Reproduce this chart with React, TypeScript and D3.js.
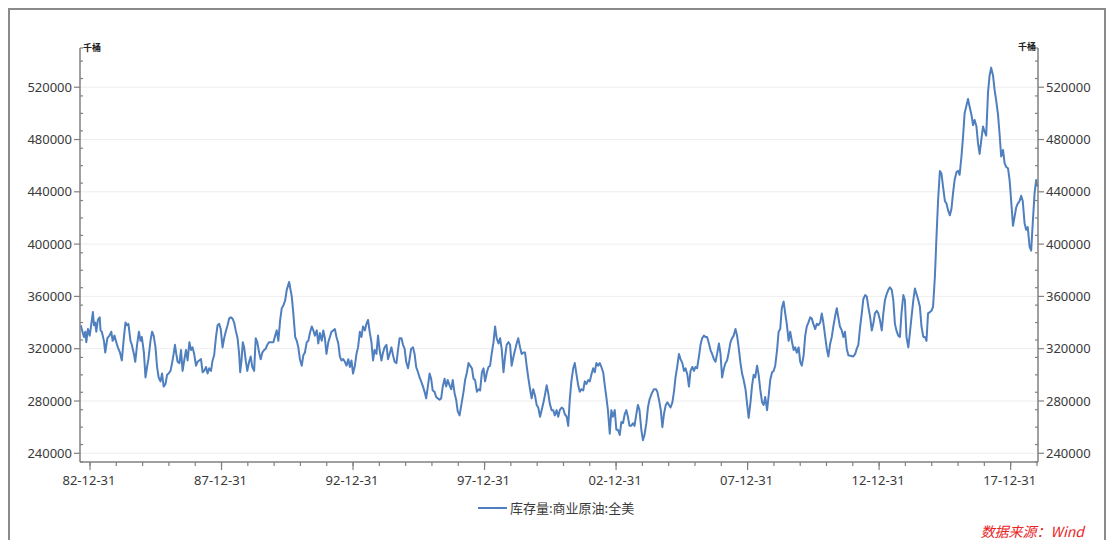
import React from "react";
import * as d3 from "d3";

// ---- data (US commercial crude oil stocks, thousand barrels) ----
const years = [
  1982.65, 1982.70, 1982.77, 1982.82, 1982.86, 1982.92, 1982.99, 1983.05, 1983.11, 1983.15,
  1983.20, 1983.24, 1983.30, 1983.37, 1983.40, 1983.45, 1983.53, 1983.58, 1983.66, 1983.74,
  1983.81, 1983.86, 1983.93, 1984.00, 1984.06, 1984.14, 1984.21, 1984.29, 1984.35, 1984.41,
  1984.46, 1984.54, 1984.59, 1984.67, 1984.72, 1984.79, 1984.86, 1984.92, 1984.97, 1985.05,
  1985.11, 1985.17, 1985.22, 1985.30, 1985.36, 1985.42, 1985.49, 1985.55, 1985.61, 1985.68,
  1985.74, 1985.80, 1985.87, 1985.93, 1985.99, 1986.06, 1986.12, 1986.18, 1986.23, 1986.28,
  1986.33, 1986.40, 1986.46, 1986.52, 1986.59, 1986.65, 1986.71, 1986.78, 1986.84, 1986.90,
  1986.96, 1987.03, 1987.09, 1987.15, 1987.22, 1987.28, 1987.34, 1987.41, 1987.47, 1987.53,
  1987.60, 1987.66, 1987.72, 1987.79, 1987.85, 1987.91, 1987.97, 1988.04, 1988.10, 1988.16,
  1988.23, 1988.29, 1988.35, 1988.42, 1988.48, 1988.54, 1988.61, 1988.67, 1988.71, 1988.76,
  1988.81, 1988.86, 1988.92, 1988.98, 1989.05, 1989.11, 1989.17, 1989.24, 1989.30, 1989.36,
  1989.43, 1989.49, 1989.55, 1989.62, 1989.68, 1989.74, 1989.81,
  1989.97, 1990.04, 1990.10, 1990.16, 1990.23, 1990.29, 1990.35, 1990.42, 1990.48, 1990.57,
  1990.67, 1990.73, 1990.80, 1990.86, 1990.92, 1990.98, 1991.05, 1991.11, 1991.17, 1991.24,
  1991.30, 1991.36, 1991.43, 1991.49, 1991.55, 1991.62, 1991.68, 1991.74, 1991.81, 1991.87,
  1991.93, 1991.99, 1992.06, 1992.12, 1992.18, 1992.25, 1992.31, 1992.37, 1992.44, 1992.50,
  1992.56, 1992.63, 1992.69, 1992.75, 1992.82, 1992.88, 1992.94, 1993.00, 1993.07, 1993.13,
  1993.19, 1993.26, 1993.32, 1993.38, 1993.45, 1993.51, 1993.57, 1993.64, 1993.70, 1993.76,
  1993.82, 1993.89, 1993.95, 1994.01, 1994.08, 1994.14, 1994.20, 1994.27, 1994.33, 1994.39,
  1994.46, 1994.52, 1994.58, 1994.65, 1994.71, 1994.77, 1994.84, 1994.90, 1994.96, 1995.02,
  1995.09, 1995.15, 1995.21, 1995.28, 1995.34, 1995.40, 1995.47, 1995.53, 1995.59, 1995.66,
  1995.72, 1995.78, 1995.85, 1995.91, 1995.97, 1996.03, 1996.10, 1996.16, 1996.22, 1996.29,
  1996.35, 1996.41, 1996.48, 1996.54, 1996.60, 1996.67, 1996.73, 1996.79, 1996.86, 1996.92,
  1996.98, 1997.05,
  1997.20, 1997.26, 1997.33, 1997.39, 1997.45, 1997.52, 1997.58, 1997.64, 1997.71, 1997.77,
  1997.83, 1997.90, 1997.96, 1998.02, 1998.09, 1998.15, 1998.21, 1998.27, 1998.34, 1998.40,
  1998.46, 1998.53, 1998.59, 1998.65, 1998.72, 1998.78, 1998.84, 1998.91, 1998.97, 1999.03,
  1999.10, 1999.16, 1999.22, 1999.28, 1999.35, 1999.41, 1999.47, 1999.54, 1999.60, 1999.66,
  1999.73, 1999.79, 1999.85, 1999.92, 1999.98, 2000.04, 2000.11, 2000.17, 2000.23, 2000.29,
  2000.36, 2000.42, 2000.48, 2000.55, 2000.61, 2000.67, 2000.74, 2000.80, 2000.86, 2000.93,
  2000.99, 2001.05, 2001.12, 2001.18, 2001.24, 2001.30, 2001.37, 2001.43, 2001.49, 2001.56,
  2001.62, 2001.68, 2001.75, 2001.81, 2001.87, 2001.94, 2002.00, 2002.06, 2002.13, 2002.19,
  2002.25, 2002.32, 2002.38, 2002.44, 2002.51, 2002.57, 2002.63, 2002.69, 2002.76, 2002.82,
  2002.88, 2002.95, 2003.01, 2003.07, 2003.14, 2003.20, 2003.26, 2003.33, 2003.39, 2003.45,
  2003.51, 2003.58, 2003.64, 2003.70, 2003.77, 2003.83, 2003.89, 2003.96, 2004.02, 2004.08,
  2004.15, 2004.21, 2004.27,
  2004.36, 2004.44, 2004.52, 2004.57, 2004.63, 2004.70, 2004.76, 2004.82, 2004.89, 2004.95,
  2005.01, 2005.07, 2005.14, 2005.20, 2005.26, 2005.33, 2005.39, 2005.45, 2005.52, 2005.58,
  2005.64, 2005.71, 2005.77, 2005.83, 2005.90, 2005.96, 2006.02, 2006.08, 2006.15, 2006.21,
  2006.27, 2006.34, 2006.40, 2006.46, 2006.53, 2006.59, 2006.65, 2006.72, 2006.78, 2006.84,
  2006.91, 2006.97, 2007.03, 2007.10, 2007.16, 2007.22, 2007.28, 2007.35, 2007.41, 2007.47,
  2007.54, 2007.60, 2007.66, 2007.73, 2007.79, 2007.85, 2007.92, 2007.98, 2008.04, 2008.11,
  2008.17, 2008.23, 2008.29, 2008.36, 2008.42, 2008.48, 2008.55, 2008.61, 2008.67, 2008.74,
  2008.80, 2008.86, 2008.93, 2008.99, 2009.05, 2009.12, 2009.18, 2009.24, 2009.30, 2009.37,
  2009.43, 2009.49, 2009.56, 2009.62, 2009.68, 2009.75, 2009.81, 2009.87, 2009.94, 2010.00,
  2010.06, 2010.13, 2010.19, 2010.25, 2010.31, 2010.38, 2010.44, 2010.50, 2010.57, 2010.63,
  2010.69, 2010.76, 2010.82, 2010.88, 2010.95, 2011.01, 2011.07, 2011.14, 2011.20, 2011.26,
  2011.32, 2011.39, 2011.45, 2011.51, 2011.58, 2011.64, 2011.70, 2011.77, 2011.83,
  2012.02, 2012.09, 2012.15, 2012.21, 2012.28, 2012.34, 2012.40, 2012.47, 2012.53, 2012.59,
  2012.66, 2012.72, 2012.78, 2012.84, 2012.91, 2012.97, 2013.03, 2013.10, 2013.16, 2013.22,
  2013.29, 2013.35, 2013.41, 2013.48, 2013.54, 2013.60, 2013.67, 2013.73, 2013.79, 2013.85,
  2013.92, 2013.98, 2014.04, 2014.11, 2014.17, 2014.23, 2014.30, 2014.36, 2014.42, 2014.49,
  2014.55, 2014.61, 2014.68, 2014.74, 2014.80, 2014.86, 2014.93, 2014.99, 2015.05, 2015.12,
  2015.18, 2015.24, 2015.31, 2015.37, 2015.43, 2015.50, 2015.56, 2015.62, 2015.69, 2015.75,
  2015.81, 2015.87, 2015.94, 2016.00, 2016.06, 2016.13, 2016.19, 2016.25, 2016.32, 2016.38,
  2016.44, 2016.51, 2016.57, 2016.63, 2016.70, 2016.76, 2016.82, 2016.88, 2016.95, 2017.01,
  2017.07, 2017.14, 2017.20, 2017.26, 2017.33, 2017.39, 2017.45, 2017.52, 2017.58, 2017.64,
  2017.71, 2017.77, 2017.83, 2017.90, 2017.96, 2018.02, 2018.09, 2018.15, 2018.21, 2018.27,
  2018.34, 2018.40, 2018.46, 2018.53, 2018.59, 2018.65, 2018.72, 2018.78, 2018.84, 2018.91,
  2018.97, 2019.03,
];

const stocks = [
  338000, 334000, 329000, 333000, 325000, 335000, 330000, 339000, 348000, 338000,
  340000, 333000, 342000, 344000, 334000, 333000, 326000, 317000, 328000, 330000,
  333000, 326000, 330000, 325000, 321000, 317000, 311000, 329000, 340000, 338000,
  339000, 326000, 323000, 316000, 310000, 323000, 333000, 326000, 329000, 317000,
  298000, 306000, 312000, 326000, 333000, 330000, 321000, 306000, 298000, 295000,
  301000, 291000, 293000, 300000, 301000, 303000, 309000, 316000, 323000, 316000,
  310000, 309000, 319000, 303000, 312000, 319000, 311000, 325000, 319000, 321000,
  316000, 307000, 310000, 311000, 312000, 302000, 303000, 306000, 301000, 305000,
  303000, 311000, 315000, 329000, 338000, 339000, 335000, 321000, 328000, 333000,
  338000, 343000, 344000, 343000, 340000, 334000, 328000, 316000, 302000, 311000,
  325000, 321000, 311000, 303000, 310000, 314000, 306000, 303000, 328000, 325000,
  317000, 312000, 317000, 319000, 320000, 323000, 325000,
  325000, 330000, 334000, 326000, 342000, 351000, 353000, 357000, 365000, 371000,
  360000, 347000, 329000, 326000, 321000, 312000, 307000, 315000, 317000, 325000,
  326000, 332000, 337000, 334000, 330000, 334000, 324000, 332000, 326000, 334000,
  328000, 316000, 325000, 329000, 333000, 334000, 335000, 329000, 324000, 314000,
  311000, 312000, 310000, 307000, 312000, 306000, 311000, 301000, 307000, 316000,
  321000, 333000, 329000, 337000, 334000, 339000, 342000, 332000, 325000, 311000,
  319000, 316000, 330000, 319000, 311000, 317000, 321000, 323000, 312000, 316000,
  321000, 315000, 310000, 309000, 319000, 328000, 328000, 323000, 320000, 310000,
  305000, 312000, 320000, 321000, 316000, 306000, 302000, 298000, 295000, 291000,
  287000, 282000, 292000, 301000, 297000, 288000, 287000, 283000, 282000, 281000,
  282000, 291000, 297000, 291000, 296000, 292000, 289000, 296000, 286000, 281000,
  272000, 269000,
  287000, 296000, 302000, 309000, 307000, 305000, 297000, 296000, 287000, 289000,
  288000, 302000, 305000, 295000, 302000, 306000, 307000, 316000, 325000, 337000,
  328000, 324000, 328000, 320000, 302000, 314000, 323000, 325000, 323000, 307000,
  314000, 319000, 324000, 328000, 321000, 316000, 317000, 317000, 307000, 298000,
  289000, 282000, 289000, 284000, 277000, 275000, 268000, 273000, 278000, 284000,
  292000, 286000, 278000, 273000, 273000, 269000, 273000, 268000, 273000, 275000,
  274000, 270000, 268000, 261000, 281000, 295000, 305000, 309000, 301000, 292000,
  287000, 289000, 288000, 295000, 293000, 296000, 295000, 300000, 305000, 302000,
  309000, 307000, 309000, 306000, 302000, 292000, 283000, 273000, 255000, 273000,
  268000, 273000, 258000, 258000, 254000, 264000, 263000, 270000, 273000, 268000,
  261000, 261000, 263000, 261000, 270000, 277000, 273000, 258000, 250000, 254000,
  263000, 275000, 281000,
  286000, 289000, 289000, 287000, 281000, 273000, 260000, 270000, 277000, 279000,
  277000, 275000, 279000, 287000, 298000, 307000, 316000, 312000, 309000, 303000,
  305000, 300000, 291000, 303000, 306000, 303000, 306000, 305000, 314000, 323000,
  328000, 330000, 329000, 329000, 324000, 319000, 316000, 312000, 310000, 316000,
  324000, 316000, 298000, 305000, 309000, 311000, 317000, 325000, 328000, 330000,
  335000, 330000, 321000, 309000, 301000, 296000, 289000, 278000, 267000, 279000,
  292000, 300000, 298000, 307000, 300000, 289000, 279000, 277000, 283000, 273000,
  284000, 296000, 302000, 303000, 307000, 319000, 333000, 335000, 351000, 356000,
  347000, 339000, 326000, 333000, 326000, 319000, 321000, 317000, 321000, 310000,
  307000, 315000, 330000, 337000, 340000, 344000, 343000, 339000, 335000, 339000,
  338000, 340000, 347000, 340000, 329000, 320000, 314000, 324000, 329000, 337000,
  344000, 351000, 344000, 337000, 334000, 329000, 333000, 320000, 315000,
  314000, 316000, 320000, 323000, 337000, 347000, 358000, 361000, 360000, 352000,
  344000, 334000, 339000, 347000, 349000, 347000, 342000, 334000, 347000, 357000,
  362000, 365000, 367000, 365000, 357000, 339000, 333000, 330000, 329000, 347000,
  361000, 357000, 329000, 321000, 332000, 344000, 357000, 366000, 362000, 357000,
  352000, 337000, 329000, 329000, 326000, 347000, 348000, 349000, 352000, 375000,
  405000, 433000, 456000, 454000, 444000, 433000, 431000, 426000, 422000, 427000,
  439000, 449000, 455000, 456000, 453000, 467000, 482000, 500000, 506000, 511000,
  505000, 499000, 491000, 495000, 490000, 477000, 469000, 479000, 490000, 486000,
  483000, 516000, 529000, 535000, 529000, 518000, 510000, 499000, 484000, 467000,
  472000, 462000, 459000, 458000, 449000, 433000, 414000, 421000, 428000, 431000,
  433000, 437000, 433000, 416000, 411000, 413000, 398000, 395000, 416000, 439000,
  449000, 444000,
];

const seriesName = "库存量:商业原油:全美";
const unitLabel = "千桶";
const sourceText = "数据来源：Wind";
const yTickValues = [240000, 280000, 320000, 360000, 400000, 440000, 480000, 520000];
const xTickYears = [1983, 1988, 1993, 1998, 2003, 2008, 2013, 2018];
const xTickLabels = ["82-12-31", "87-12-31", "92-12-31", "97-12-31", "02-12-31", "07-12-31", "12-12-31", "17-12-31"];

// ---- layout ----
const W = 1108;
const H = 540;
const L = 80;
const R = 1038;
const T = 48;
const B = 462;
const LINE = "#4f7fbf";
const AXIS = "#808080";
const TEXT = "#3a3a3a";
const NUM_FONT = "'Noto Sans', 'DejaVu Sans', sans-serif";
const CJK_FONT = "'Noto Sans CJK SC', 'Noto Sans', sans-serif";

export default function App() {
  const x = d3.scaleLinear().domain([1982.62, 2019.04]).range([L, R]);
  const y = d3.scaleLinear().domain([233333.33, 550000]).range([B, T]);

  const pts: [number, number][] = years.map((yr, i) => [yr, stocks[i]]);
  const path = d3
    .line<[number, number]>()
    .x((d) => x(d[0]))
    .y((d) => y(d[1]))(pts) as string;

  const minorY = d3.range(0, 24).map((k) => 233333.33 + k * 13333.333);
  const minorX = d3.range(1983, 2020);

  return (
    <svg
      width={W}
      height={H}
      style={{ position: "absolute", left: 0, top: 0, background: "#fff" }}
    >
      <rect x={0} y={0} width={W} height={H} fill="#fff" />
      {/* outer frame */}
      <rect x={9} y={9} width={1096} height={600} fill="none" stroke="#8a8a8a" strokeWidth={2} />

      {/* grid */}
      {yTickValues.map((v) => (
        <line key={"g" + v} x1={L} x2={R} y1={y(v)} y2={y(v)} stroke="#ededed" strokeWidth={1} />
      ))}

      {/* series */}
      <path d={path} fill="none" stroke={LINE} strokeWidth={2} strokeLinejoin="round" />

      {/* left axis */}
      <line x1={L} x2={L} y1={T} y2={B} stroke={AXIS} strokeWidth={1.5} />
      {minorY.map((v, i) => (
        <line key={"lm" + i} x1={L} x2={L + 3} y1={y(v)} y2={y(v)} stroke={AXIS} strokeWidth={1.2} />
      ))}
      {yTickValues.map((v) => (
        <g key={"ly" + v}>
          <line x1={L - 6} x2={L} y1={y(v)} y2={y(v)} stroke={AXIS} strokeWidth={1.2} />
          <text x={L - 8} y={y(v)} dy="0.35em" textAnchor="end" fontSize={13} fontFamily={NUM_FONT} fill={TEXT}>
            {v}
          </text>
        </g>
      ))}
      <line x1={L} x2={L + 3} y1={T} y2={T} stroke={AXIS} strokeWidth={1.2} />
      <text x={L + 3} y={T} dy="0.35em" fontSize={9} fontWeight="bold" fontFamily={CJK_FONT} fill="#222">
        {unitLabel}
      </text>

      {/* right axis */}
      <line x1={R} x2={R} y1={T} y2={B} stroke={AXIS} strokeWidth={1.5} />
      {minorY.map((v, i) => (
        <line key={"rm" + i} x1={R - 3} x2={R} y1={y(v)} y2={y(v)} stroke={AXIS} strokeWidth={1.2} />
      ))}
      {yTickValues.map((v) => (
        <g key={"ry" + v}>
          <line x1={R} x2={R + 6} y1={y(v)} y2={y(v)} stroke={AXIS} strokeWidth={1.2} />
          <text x={R + 8} y={y(v)} dy="0.35em" textAnchor="start" fontSize={13} fontFamily={NUM_FONT} fill={TEXT}>
            {v}
          </text>
        </g>
      ))}
      <line x1={R - 3} x2={R} y1={T} y2={T} stroke={AXIS} strokeWidth={1.2} />
      <text x={R - 2} y={T - 1} dy="0.35em" textAnchor="end" fontSize={9} fontWeight="bold" fontFamily={CJK_FONT} fill="#222">
        {unitLabel}
      </text>

      {/* bottom axis */}
      <line x1={L} x2={R} y1={B} y2={B} stroke={AXIS} strokeWidth={1.5} />
      {minorX.map((yr) => (
        <line key={"xm" + yr} x1={x(yr)} x2={x(yr)} y1={B} y2={B + 4} stroke={AXIS} strokeWidth={1.2} />
      ))}
      {xTickYears.map((yr, i) => (
        <g key={"xt" + yr}>
          <line x1={x(yr)} x2={x(yr)} y1={B} y2={B + 8} stroke={AXIS} strokeWidth={1.2} />
          <text x={x(yr) - 1} y={B + 18} dy="0.35em" textAnchor="middle" fontSize={13} fontFamily={NUM_FONT} fill={TEXT}>
            {xTickLabels[i]}
          </text>
        </g>
      ))}

      {/* legend */}
      <line x1={478} x2={507} y1={508} y2={508} stroke={LINE} strokeWidth={2} />
      <text x={510} y={508} dy="0.35em" fontSize={13} fontFamily={CJK_FONT} fill={TEXT}>
        {seriesName}
      </text>

      {/* source */}
      <text x={1084} y={532} dy="0.35em" textAnchor="end" fontSize={14} fontStyle="italic" fontFamily={CJK_FONT} fill="#e8251f">
        {sourceText}
      </text>
    </svg>
  );
}
